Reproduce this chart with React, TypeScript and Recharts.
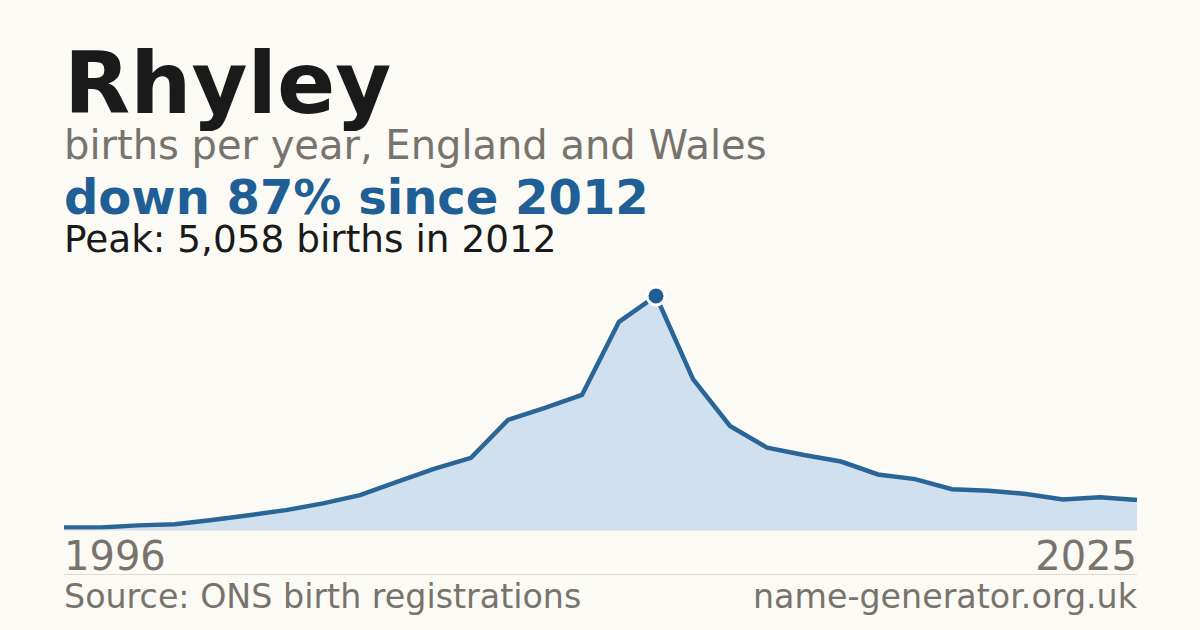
import React from "react";
import { AreaChart, Area, XAxis, YAxis, ReferenceLine, ReferenceDot } from "recharts";

const years = [
  1996, 1997, 1998, 1999, 2000, 2001, 2002, 2003, 2004, 2005,
  2006, 2007, 2008, 2009, 2010, 2011, 2012, 2013, 2014, 2015,
  2016, 2017, 2018, 2019, 2020, 2021, 2022, 2023, 2024, 2025,
];
const births = [
  55, 55, 100, 125, 215, 320, 430, 575, 755, 1040,
  1320, 1560, 2380, 2640, 2920, 4500, 5058, 3260, 2250, 1780,
  1620, 1480, 1200, 1100, 880, 850, 780, 660, 710, 650,
];
const yearTicks = [1996, 2025];

const peakIndex = births.indexOf(Math.max(...births));
const peakYear = years[peakIndex];
const peakValue = births[peakIndex];
const changePct = Math.round((1 - births[births.length - 1] / peakValue) * 100);

const data = years.map((year, i) => ({ year, births: births[i] }));

const FONT = "'DejaVu Sans', Verdana, sans-serif";
const BG = "#fbfaf5";
const GREY = "#78736c";
const BLUE = "#1f5f96";
const INK = "#1a1a1a";

// place a line of text by its baseline (DejaVu at line-height 0.9: baseline ~0.796em below top)
function Line({
  text,
  size,
  baseline,
  color,
  bold,
  right,
}: {
  text: string;
  size: number;
  baseline: number;
  color: string;
  bold?: boolean;
  right?: boolean;
}) {
  return (
    <div
      style={{
        position: "absolute",
        top: baseline - size * 0.796,
        left: right ? undefined : 64,
        right: right ? 63 : undefined,
        fontSize: size,
        lineHeight: 0.9,
        fontWeight: bold ? 700 : 400,
        color,
        whiteSpace: "nowrap",
      }}
    >
      {text}
    </div>
  );
}

function YearTick(props: any) {
  const { x, y, payload, index } = props;
  return (
    <text
      x={x}
      y={y + 40}
      textAnchor={index === 0 ? "start" : "end"}
      fill={GREY}
      fontSize={40}
      fontFamily={FONT}
    >
      {payload.value}
    </text>
  );
}

export default function App() {
  return (
    <div
      style={{
        position: "absolute",
        left: 0,
        top: 0,
        width: 1200,
        height: 630,
        background: BG,
        fontFamily: FONT,
        overflow: "hidden",
      }}
    >
      <Line text="Rhyley" size={86} baseline={113} color={INK} bold />
      <Line text="births per year, England and Wales" size={40} baseline={159} color={GREY} />
      <Line text={`down ${changePct}% since ${peakYear}`} size={48} baseline={214} color={BLUE} bold />
      <Line
        text={`Peak: ${peakValue.toLocaleString("en-GB")} births in ${peakYear}`}
        size={37.4}
        baseline={253}
        color={INK}
      />

      <div style={{ position: "absolute", left: 0, top: 280 }}>
        <AreaChart
          width={1200}
          height={305}
          data={data}
          margin={{ top: 16, right: 63, bottom: 10, left: 64 }}
        >
          <XAxis
            dataKey="year"
            type="number"
            domain={["dataMin", "dataMax"]}
            ticks={yearTicks}
            tick={<YearTick />}
            tickLine={false}
            tickSize={0}
            tickMargin={0}
            axisLine={false}
            height={45}
            interval={0}
          />
          <YAxis hide domain={[0, "dataMax"]} />
          <Area
            type="linear"
            dataKey="births"
            stroke="#2a6598"
            strokeWidth={4.5}
            fill="#d0e0ef"
            fillOpacity={1}
            isAnimationActive={false}
            dot={false}
            activeDot={false}
          />
          <ReferenceLine y={0} stroke="#dedbd3" strokeWidth={1} />
          <ReferenceDot
            x={peakYear}
            y={peakValue}
            r={9}
            fill={BLUE}
            stroke="#ffffff"
            strokeWidth={3}
          />
        </AreaChart>
      </div>

      <div
        style={{
          position: "absolute",
          left: 64,
          top: 574,
          width: 1073,
          height: 1,
          background: "#dedbd3",
        }}
      />
      <Line text="Source: ONS birth registrations" size={33.3} baseline={609} color={GREY} />
      <Line text="name-generator.org.uk" size={33.3} baseline={609} color={GREY} right />
    </div>
  );
}
